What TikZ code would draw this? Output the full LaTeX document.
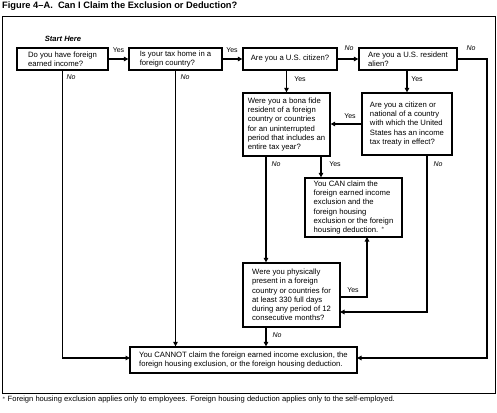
\documentclass[tikz,border=0pt]{standalone}
\usepackage{fontspec}
\setmainfont{Liberation Sans}
\usetikzlibrary{arrows.meta}
\begin{document}
\begin{tikzpicture}[x=1pt,y=-1pt,
  qbox/.style={draw, line width=1.3pt, align=left, inner xsep=2pt, inner ysep=1pt,
    font=\fontsize{7.7}{9.2}\selectfont},
  conn/.style={line width=1.7pt, -{Triangle[length=4.5pt,width=4.5pt]}},
  lbl/.style={font=\fontsize{7}{8}\selectfont, inner sep=0pt},
  nolbl/.style={font=\fontsize{7}{8}\itshape\selectfont, inner sep=0pt}]
\useasboundingbox (0,0) rectangle (497,412);
\node[anchor=west, inner sep=0pt, font=\fontsize{9.3}{10}\bfseries\selectfont] (title) at (2,6) {Figure 4--A.\ \ Can I Claim the Exclusion or Deduction?};
\draw[line width=1pt] (2,17) rectangle (495,393);
\node[anchor=west, inner sep=0pt, font=\fontsize{7.6}{8}\selectfont] (foot) at (2,400) {$^*$\,Foreign housing exclusion applies only to employees. Foreign housing deduction applies only to the self-employed.};
\node[inner sep=0pt, font=\fontsize{7.6}{9}\bfseries\itshape\selectfont] (start) at (63,39) {Start Here};
\node[qbox, minimum width=91, minimum height=22] (b1) at (62.5,59) {Do you have foreign\\earned income?};
\node[qbox, minimum width=93, minimum height=22] (b2) at (175.5,59) {Is your tax home in a\\foreign country?};
\node[qbox, minimum width=94, minimum height=22] (b3) at (290,59) {Are you a U.S. citizen?};
\node[qbox, minimum width=98, minimum height=22] (b4) at (408,59) {Are you a U.S. resident\\alien?};
\node[qbox, minimum width=87, minimum height=63] (b5) at (286.5,124.5) {Were you a bona fide\\resident of a foreign\\country or countries\\for an uninterrupted\\period that includes an\\entire tax year?};
\node[qbox, minimum width=90, minimum height=62] (b6) at (407,124) {Are you a citizen or\\national of a country\\with which the United\\States has an income\\tax treaty in effect?};
\node[qbox, minimum width=97, minimum height=59] (b7) at (353.5,207.5) {You CAN claim the\\foreign earned income\\exclusion and the\\foreign housing\\exclusion or the foreign\\housing deduction. $^*$};
\node[qbox, minimum width=97, minimum height=64] (b8) at (291.5,295) {Were you physically\\present in a foreign\\country or countries for\\at least 330 full days\\during any period of 12\\consecutive months?};
\node[qbox, minimum width=227, minimum height=26] (b9) at (243.5,360) {You CANNOT claim the foreign earned income exclusion, the\\foreign housing exclusion, or the foreign housing deduction.};
% coordinates
\coordinate (in9L) at (130,358);
\coordinate (in9R) at (357,358);
\coordinate (c4) at (487,59);
\coordinate (n5) at (266,156);
\coordinate (y5) at (321,156);
\coordinate (n6) at (427,155);
\coordinate (in8) at (340,312);
\coordinate (out8) at (340,297);
\coordinate (in7) at (367,237);
\coordinate (n8) at (266,327);
% connectors
\draw[conn] (b1.east) -- (b2.west);
\draw[conn] (b2.east) -- (b3.west);
\draw[conn] (b3.east) -- (b4.west);
\draw[conn] (b4.east) -- (c4) |- (in9R);
\draw[conn] (b1.south) |- (in9L);
\draw[conn] (b2.south) -- (b2.south |- b9.north);
\draw[conn] (b5.north |- b3.south) -- (b5.north);
\draw[conn] (b6.north |- b4.south) -- (b6.north);
\draw[conn] (b6.west) -- (b6.west -| b5.east);
\draw[conn] (n5) -- (n5 |- b8.north);
\draw[conn] (y5) -- (y5 |- b7.north);
\draw[conn] (n6) |- (in8);
\draw[conn] (out8) -| (in7);
\draw[conn] (n8) -- (n8 |- b9.north);
% labels
\node[lbl] (l1) at (118.5,50) {Yes};
\node[lbl] (l2) at (232,50) {Yes};
\node[nolbl] (l3) at (349,48) {No};
\node[nolbl] (l4) at (471,48) {No};
\node[nolbl] (l5) at (71,77) {No};
\node[nolbl] (l6) at (185,77) {No};
\node[lbl] (l7) at (300,79) {Yes};
\node[lbl] (l8) at (417,79) {Yes};
\node[lbl] (l9) at (350,116) {Yes};
\node[nolbl] (l10) at (276,164) {No};
\node[lbl] (l11) at (335,164) {Yes};
\node[nolbl] (l12) at (438,164) {No};
\node[lbl] (l13) at (353,290) {Yes};
\node[nolbl] (l14) at (277,335) {No};
\end{tikzpicture}
\end{document}
